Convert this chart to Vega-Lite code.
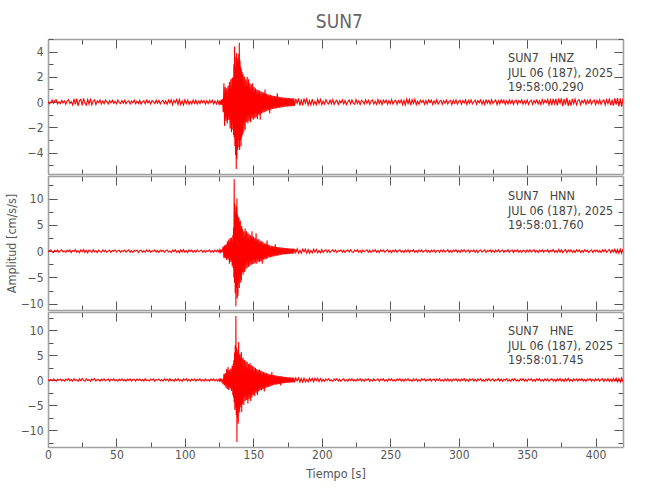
{
"$schema": "https://vega.github.io/schema/vega-lite/v6.json",
"background": "white",
"padding": {"left": 5, "top": 13, "right": 5, "bottom": 5},
"spacing": 0,
"title": {"text": "SUN7", "anchor": "middle", "fontSize": 19, "font": "DejaVu Sans Condensed, Liberation Sans Narrow, sans-serif", "fontWeight": "normal", "color": "#666", "offset": 1, "dx": 25},
"datasets": {"w": [
{"t":0,"z":0.05,"n":-0.18,"e":0.12},{"t":1,"z":-0.14,"n":0.07,"e":-0.2},{"t":2,"z":-0.02,"n":0.22,"e":0.09},{"t":3,"z":0.16,"n":-0.12,"e":-0.15},{"t":4,"z":-0.09,"n":-0.25,"e":0.22},{"t":5,"z":0.11,"n":0.15,"e":0.03},{"t":6,"z":0.18,"n":-0.04,"e":-0.24},{"t":7,"z":-0.15,"n":0.2,"e":0.14},{"t":8,"z":0.03,"n":-0.21,"e":-0.06},{"t":9,"z":-0.12,"n":0.1,"e":0.2},
{"t":10,"z":0.14,"n":0.26,"e":-0.18},{"t":11,"z":-0.06,"n":-0.14,"e":0.1},{"t":12,"z":0.1,"n":0.05,"e":-0.23},{"t":13,"z":-0.17,"n":-0.24,"e":0.17},{"t":14,"z":0.08,"n":0.18,"e":-0.04},{"t":15,"z":0.19,"n":-0.09,"e":0.25},{"t":16,"z":-0.11,"n":0.22,"e":-0.16},{"t":17,"z":0.04,"n":-0.27,"e":0.08},{"t":18,"z":-0.22,"n":0.12,"e":-0.2},{"t":19,"z":0.25,"n":-0.05,"e":0.27},
{"t":20,"z":-0.18,"n":0.3,"e":-0.12},{"t":21,"z":0.27,"n":-0.2,"e":0.05},{"t":22,"z":-0.3,"n":0.08,"e":-0.28},{"t":23,"z":0.12,"n":-0.3,"e":0.22},{"t":24,"z":0.22,"n":0.25,"e":-0.16},{"t":25,"z":-0.26,"n":-0.12,"e":0.3},{"t":26,"z":0.3,"n":0.33,"e":-0.08},{"t":27,"z":-0.08,"n":-0.26,"e":-0.26},{"t":28,"z":-0.24,"n":0.14,"e":0.24},{"t":29,"z":0.2,"n":-0.32,"e":-0.14},
{"t":30,"z":-0.16,"n":0.2,"e":0.1},{"t":31,"z":0.28,"n":0.04,"e":-0.3},{"t":32,"z":-0.22,"n":-0.24,"e":0.2},{"t":33,"z":0.06,"n":0.27,"e":-0.06},{"t":34,"z":0.18,"n":-0.15,"e":0.26},{"t":35,"z":-0.2,"n":0.1,"e":-0.2},{"t":36,"z":0.1,"n":-0.28,"e":0.12},{"t":37,"z":-0.04,"n":0.2,"e":0.04},{"t":38,"z":0.17,"n":-0.06,"e":-0.22},{"t":39,"z":-0.15,"n":-0.2,"e":0.18},
{"t":40,"z":0.08,"n":0.24,"e":-0.1},{"t":41,"z":-0.13,"n":-0.1,"e":0.23},{"t":42,"z":0.15,"n":0.16,"e":-0.19},{"t":43,"z":0.02,"n":-0.22,"e":0.02},{"t":44,"z":-0.16,"n":0.05,"e":0.2},{"t":45,"z":0.12,"n":0.19,"e":-0.24},{"t":46,"z":-0.07,"n":-0.24,"e":0.13},{"t":47,"z":0.14,"n":0.12,"e":-0.05},{"t":48,"z":-0.1,"n":-0.03,"e":0.21},{"t":49,"z":0.06,"n":0.22,"e":-0.17},
{"t":50,"z":-0.14,"n":-0.18,"e":0.07},{"t":51,"z":0.16,"n":0.08,"e":-0.22},{"t":52,"z":-0.03,"n":0.2,"e":0.18},{"t":53,"z":-0.12,"n":-0.23,"e":-0.1},{"t":54,"z":0.13,"n":0.1,"e":0.24},{"t":55,"z":-0.09,"n":-0.06,"e":-0.16},{"t":56,"z":0.15,"n":0.21,"e":0.04},{"t":57,"z":-0.14,"n":-0.19,"e":-0.21},{"t":58,"z":0.04,"n":0.03,"e":0.19},{"t":59,"z":0.11,"n":0.24,"e":-0.07},
{"t":60,"z":-0.15,"n":-0.2,"e":0.22},{"t":61,"z":0.09,"n":0.12,"e":-0.2},{"t":62,"z":-0.05,"n":-0.22,"e":0.09},{"t":63,"z":0.16,"n":0.17,"e":0.15},{"t":64,"z":-0.13,"n":-0.04,"e":-0.23},{"t":65,"z":0.07,"n":0.2,"e":0.17},{"t":66,"z":-0.11,"n":-0.25,"e":-0.05},{"t":67,"z":0.14,"n":0.09,"e":0.2},{"t":68,"z":-0.16,"n":0.18,"e":-0.18},{"t":69,"z":0.02,"n":-0.2,"e":0.1},
{"t":70,"z":0.12,"n":0.06,"e":-0.22},{"t":71,"z":-0.14,"n":-0.16,"e":0.24},{"t":72,"z":0.15,"n":0.23,"e":-0.12},{"t":73,"z":-0.06,"n":-0.1,"e":0.02},{"t":74,"z":0.1,"n":0.19,"e":-0.2},{"t":75,"z":-0.16,"n":-0.24,"e":0.18},{"t":76,"z":0.13,"n":0.08,"e":-0.06},{"t":77,"z":0.03,"n":-0.04,"e":0.22},{"t":78,"z":-0.12,"n":0.22,"e":-0.24},{"t":79,"z":0.15,"n":-0.19,"e":0.12},
{"t":80,"z":-0.09,"n":0.11,"e":-0.03},{"t":81,"z":0.13,"n":-0.22,"e":0.2},{"t":82,"z":-0.15,"n":0.2,"e":-0.17},{"t":83,"z":0.06,"n":-0.07,"e":0.08},{"t":84,"z":0.14,"n":0.16,"e":-0.22},{"t":85,"z":-0.13,"n":-0.23,"e":0.21},{"t":86,"z":0.09,"n":0.1,"e":-0.1},{"t":87,"z":-0.17,"n":0.24,"e":0.16},{"t":88,"z":0.16,"n":-0.16,"e":-0.21},{"t":89,"z":-0.08,"n":0.04,"e":0.23},
{"t":90,"z":0.19,"n":-0.25,"e":-0.14},{"t":91,"z":-0.2,"n":0.2,"e":0.05},{"t":92,"z":0.14,"n":-0.1,"e":-0.25},{"t":93,"z":-0.05,"n":0.27,"e":0.2},{"t":94,"z":0.21,"n":-0.22,"e":-0.12},{"t":95,"z":-0.18,"n":0.08,"e":0.24},{"t":96,"z":0.22,"n":-0.28,"e":-0.2},{"t":97,"z":-0.2,"n":0.25,"e":0.1},{"t":98,"z":0.1,"n":-0.14,"e":-0.26},{"t":99,"z":-0.22,"n":0.3,"e":0.22},
{"t":100,"z":0.18,"n":-0.2,"e":-0.06},{"t":101,"z":-0.12,"n":0.1,"e":0.25},{"t":102,"z":0.16,"n":-0.24,"e":-0.2},{"t":103,"z":-0.17,"n":0.22,"e":0.12},{"t":104,"z":0.05,"n":-0.06,"e":-0.22},{"t":105,"z":-0.14,"n":0.2,"e":0.2},{"t":106,"z":0.16,"n":-0.22,"e":-0.08},{"t":107,"z":-0.1,"n":0.12,"e":0.19},{"t":108,"z":0.14,"n":-0.18,"e":-0.23},{"t":109,"z":-0.16,"n":0.24,"e":0.14},
{"t":110,"z":0.08,"n":-0.12,"e":-0.04},{"t":111,"z":-0.13,"n":0.05,"e":0.22},{"t":112,"z":0.15,"n":0.22,"e":-0.2},{"t":113,"z":-0.04,"n":-0.2,"e":0.1},{"t":114,"z":0.12,"n":0.14,"e":-0.22},{"t":115,"z":-0.15,"n":-0.24,"e":0.2},{"t":116,"z":0.11,"n":0.1,"e":-0.14},{"t":117,"z":-0.13,"n":-0.05,"e":0.05},{"t":118,"z":0.14,"n":0.23,"e":-0.21},{"t":119,"z":-0.06,"n":-0.2,"e":0.2},
{"t":120,"z":0.16,"n":0.12,"e":-0.08},{"t":121,"z":-0.14,"n":-0.22,"e":0.23},{"t":122,"z":0.09,"n":0.2,"e":-0.19},{"t":123,"z":-0.15,"n":-0.08,"e":0.12},{"t":124,"z":0.13,"n":0.24,"e":-0.22},
{"t":125,"z":-0.17,"n":-0.22,"e":0.2},{"t":125.5,"z":0.12,"n":0.26,"e":-0.24},{"t":126,"z":-0.2,"n":-0.18,"e":0.14},{"t":126.5,"z":0.17,"n":0.28,"e":-0.25},{"t":127,"z":-0.22,"n":-0.3,"e":0.28},{"t":127.5,"z":0.25,"n":0.32,"e":-0.3},
{"t":128,"z":-0.8,"n":0.9,"e":-0.9},{"t":128.5,"z":1.5,"n":-1.3,"e":1.2},{"t":129,"z":-1.9,"n":1.1,"e":-1.1},{"t":129.5,"z":1.2,"n":-1.4,"e":1.4},{"t":130,"z":-1.5,"n":1.3,"e":-1.6},{"t":130.5,"z":1.1,"n":-1.7,"e":2.2},{"t":131,"z":-1.7,"n":1.9,"e":-1.8},{"t":131.5,"z":1.3,"n":-1.6,"e":2.6},{"t":132,"z":-1.4,"n":2.2,"e":-2.0},{"t":132.5,"z":1.6,"n":-2.4,"e":2.0},
{"t":133,"z":-2.1,"n":2.5,"e":-1.7},{"t":133.5,"z":1.8,"n":-2.0,"e":2.3},{"t":134,"z":-2.4,"n":2.6,"e":-2.2},{"t":134.5,"z":1.9,"n":-2.8,"e":2.8},
{"t":135,"z":-2.2,"n":3.0,"e":-3.0},{"t":135.25,"z":2.0,"n":-3.2,"e":3.2},{"t":135.5,"z":-2.6,"n":4.5,"e":-3.5},{"t":135.75,"z":3.0,"n":-5.0,"e":4.0},{"t":136,"z":-2.8,"n":13.7,"e":-4.5},{"t":136.25,"z":4.4,"n":-6.0,"e":5.5},{"t":136.5,"z":-3.5,"n":9.0,"e":-6.0},{"t":136.75,"z":2.8,"n":-8.0,"e":7.0},
{"t":137,"z":-4.2,"n":7.5,"e":-5.5},{"t":137.25,"z":3.6,"n":-10.5,"e":12.8},{"t":137.5,"z":-5.3,"n":8.5,"e":-7.0},{"t":137.75,"z":3.9,"n":-7.0,"e":6.5},{"t":138,"z":-4.5,"n":10.0,"e":-12.4},{"t":138.25,"z":3.5,"n":-9.0,"e":6.0},{"t":138.5,"z":-3.8,"n":7.0,"e":-7.5},{"t":138.75,"z":3.2,"n":-8.5,"e":5.5},
{"t":139,"z":-3.0,"n":6.5,"e":-8.7},{"t":139.25,"z":3.8,"n":-6.0,"e":7.6},{"t":139.5,"z":-3.6,"n":6.3,"e":-6.0},{"t":139.75,"z":4.7,"n":-7.0,"e":5.0},{"t":140,"z":-3.8,"n":5.5,"e":-6.5},{"t":140.25,"z":3.3,"n":-5.0,"e":5.2},{"t":140.5,"z":-3.0,"n":5.8,"e":-5.0},{"t":140.75,"z":2.8,"n":-6.0,"e":4.5},
{"t":141,"z":-3.5,"n":4.5,"e":-5.5},{"t":141.25,"z":2.6,"n":-5.5,"e":5.6},{"t":141.5,"z":-2.8,"n":4.8,"e":-6.4},{"t":141.75,"z":2.4,"n":-4.0,"e":4.2},
{"t":142,"z":-2.6,"n":4.2,"e":-4.8},{"t":142.5,"z":2.2,"n":-4.5,"e":4.5},{"t":143,"z":-2.4,"n":3.8,"e":-5.0},{"t":143.5,"z":2.0,"n":-4.0,"e":4.0},{"t":144,"z":-2.2,"n":4.3,"e":-4.2},{"t":144.5,"z":1.8,"n":-3.5,"e":3.8},{"t":145,"z":-1.6,"n":3.8,"e":-4.0},{"t":145.5,"z":2.0,"n":-3.2,"e":3.6},{"t":146,"z":-1.7,"n":3.5,"e":-4.7},{"t":146.5,"z":1.8,"n":-3.0,"e":3.2},
{"t":147,"z":-1.5,"n":3.2,"e":-3.8},{"t":147.5,"z":1.5,"n":-2.8,"e":3.4},{"t":148,"z":-1.6,"n":3.0,"e":-4.2},{"t":148.5,"z":1.4,"n":-2.6,"e":3.0},{"t":149,"z":-1.3,"n":3.8,"e":-3.5},{"t":149.5,"z":1.5,"n":-2.5,"e":2.8},{"t":150,"z":-1.4,"n":2.8,"e":-3.0},{"t":150.5,"z":1.2,"n":-2.4,"e":2.6},{"t":151,"z":-1.3,"n":2.5,"e":-3.2},{"t":151.5,"z":1.1,"n":-2.2,"e":2.4},
{"t":152,"z":-1.2,"n":3.4,"e":-2.6},{"t":152.5,"z":1.0,"n":-2.4,"e":2.2},{"t":153,"z":-1.35,"n":2.2,"e":-3.0},{"t":153.5,"z":0.95,"n":-2.0,"e":2.0},{"t":154,"z":-1.0,"n":2.3,"e":-2.3},{"t":154.5,"z":0.9,"n":-2.1,"e":2.1},{"t":155,"z":-1.4,"n":2.0,"e":-2.0},{"t":155.5,"z":0.85,"n":-1.9,"e":1.9},{"t":156,"z":-0.9,"n":1.9,"e":-2.1},{"t":156.5,"z":0.8,"n":-2.4,"e":1.7},
{"t":157,"z":-0.85,"n":1.8,"e":-1.8},{"t":157.5,"z":0.75,"n":-1.6,"e":1.6},{"t":158,"z":-0.8,"n":1.5,"e":-2.3},{"t":158.5,"z":1.0,"n":-1.6,"e":1.5},{"t":159,"z":-0.75,"n":1.4,"e":-1.6},{"t":159.5,"z":0.65,"n":-1.5,"e":1.4},{"t":160,"z":-0.7,"n":2.0,"e":-1.5},{"t":160.5,"z":0.6,"n":-1.3,"e":1.3},{"t":161,"z":-0.65,"n":1.2,"e":-1.4},{"t":161.5,"z":0.6,"n":-1.2,"e":1.2},
{"t":162,"z":-0.9,"n":1.1,"e":-1.3},{"t":162.5,"z":0.55,"n":-1.15,"e":1.1},{"t":163,"z":-0.58,"n":1.0,"e":-1.2},{"t":163.5,"z":0.52,"n":-1.1,"e":1.6},{"t":164,"z":-0.55,"n":0.95,"e":-1.1},{"t":164.5,"z":0.5,"n":-1.0,"e":1.0},{"t":165,"z":-0.52,"n":0.9,"e":-1.0},{"t":165.5,"z":0.48,"n":-0.95,"e":0.95},{"t":166,"z":-0.5,"n":1.3,"e":-0.95},{"t":166.5,"z":0.45,"n":-0.9,"e":0.9},
{"t":167,"z":-0.48,"n":0.8,"e":-0.9},{"t":167.5,"z":0.7,"n":-0.85,"e":0.85},{"t":168,"z":-0.46,"n":0.78,"e":-0.85},{"t":168.5,"z":0.42,"n":-0.8,"e":0.8},{"t":169,"z":-0.44,"n":0.75,"e":-0.8},{"t":169.5,"z":0.4,"n":-0.72,"e":0.78},{"t":170,"z":-0.42,"n":0.7,"e":-1.1},{"t":170.5,"z":0.39,"n":-0.7,"e":0.72},{"t":171,"z":-0.4,"n":0.68,"e":-0.7},{"t":171.5,"z":0.38,"n":-0.65,"e":0.68},
{"t":172,"z":-0.38,"n":0.63,"e":-0.66},{"t":172.5,"z":0.36,"n":-0.62,"e":0.64},{"t":173,"z":-0.37,"n":0.6,"e":-0.62},{"t":173.5,"z":0.35,"n":-0.6,"e":0.6},{"t":174,"z":-0.36,"n":0.58,"e":-0.6},{"t":174.5,"z":0.34,"n":-0.56,"e":0.58},{"t":175,"z":-0.35,"n":0.55,"e":-0.56},{"t":175.5,"z":0.33,"n":-0.54,"e":0.55},{"t":176,"z":-0.34,"n":0.52,"e":-0.55},{"t":176.5,"z":0.32,"n":-0.52,"e":0.53},
{"t":177,"z":-0.33,"n":0.5,"e":-0.52},{"t":177.5,"z":0.31,"n":-0.5,"e":0.5},{"t":178,"z":-0.32,"n":0.48,"e":-0.5},{"t":178.5,"z":0.3,"n":-0.48,"e":0.48},{"t":179,"z":-0.31,"n":0.47,"e":-0.48},{"t":179.5,"z":0.3,"n":-0.46,"e":0.47},
{"t":180,"z":-0.3,"n":0.42,"e":-0.46},{"t":181,"z":0.26,"n":-0.3,"e":0.4},{"t":182,"z":-0.1,"n":0.45,"e":-0.2},{"t":183,"z":0.3,"n":-0.4,"e":0.44},{"t":184,"z":-0.27,"n":0.15,"e":-0.43},{"t":185,"z":0.15,"n":-0.42,"e":0.3},{"t":186,"z":-0.26,"n":0.38,"e":-0.41},{"t":187,"z":0.27,"n":-0.12,"e":0.38},{"t":188,"z":-0.08,"n":0.37,"e":-0.4},{"t":189,"z":0.26,"n":-0.38,"e":0.1},
{"t":190,"z":-0.24,"n":0.3,"e":-0.38},{"t":191,"z":0.12,"n":-0.37,"e":0.36},{"t":192,"z":-0.23,"n":0.1,"e":-0.2},{"t":193,"z":0.24,"n":-0.34,"e":0.35},{"t":194,"z":-0.2,"n":0.36,"e":-0.34},{"t":195,"z":0.05,"n":-0.2,"e":0.36},{"t":196,"z":-0.21,"n":0.34,"e":-0.12},{"t":197,"z":0.22,"n":-0.32,"e":0.34},{"t":198,"z":-0.12,"n":0.1,"e":-0.32},{"t":199,"z":0.21,"n":-0.31,"e":0.3},
{"t":200,"z":-0.2,"n":0.3,"e":-0.28},{"t":201,"z":0.08,"n":-0.24,"e":0.12},{"t":202,"z":-0.17,"n":0.1,"e":-0.26},{"t":203,"z":0.19,"n":0.26,"e":0.2},{"t":204,"z":-0.04,"n":-0.2,"e":-0.1},{"t":205,"z":-0.15,"n":0.22,"e":0.24},{"t":206,"z":0.16,"n":-0.27,"e":-0.2},{"t":207,"z":-0.12,"n":0.05,"e":0.05},{"t":208,"z":0.2,"n":0.25,"e":-0.25},{"t":209,"z":-0.18,"n":-0.14,"e":0.22},
{"t":210,"z":0.05,"n":0.2,"e":-0.08},{"t":211,"z":0.14,"n":-0.26,"e":0.25},{"t":212,"z":-0.2,"n":0.12,"e":-0.22},{"t":213,"z":0.1,"n":-0.04,"e":0.14},{"t":214,"z":-0.06,"n":0.24,"e":-0.26},{"t":215,"z":0.18,"n":-0.22,"e":0.06},{"t":216,"z":-0.15,"n":0.18,"e":0.24},{"t":217,"z":0.12,"n":-0.27,"e":-0.21},{"t":218,"z":-0.19,"n":0.08,"e":0.1},{"t":219,"z":0.03,"n":0.22,"e":-0.25},
{"t":220,"z":0.17,"n":-0.18,"e":0.22},{"t":221,"z":-0.14,"n":0.25,"e":-0.12},{"t":222,"z":0.16,"n":-0.1,"e":0.26},{"t":223,"z":-0.08,"n":-0.24,"e":-0.2},{"t":224,"z":-0.18,"n":0.2,"e":0.04},{"t":225,"z":0.2,"n":-0.06,"e":-0.23},{"t":226,"z":-0.12,"n":0.26,"e":0.22},{"t":227,"z":0.1,"n":-0.22,"e":-0.1},{"t":228,"z":-0.2,"n":0.14,"e":0.25},{"t":229,"z":0.15,"n":-0.27,"e":-0.22},
{"t":230,"z":0.04,"n":0.22,"e":0.12},{"t":231,"z":-0.16,"n":-0.12,"e":-0.26},{"t":232,"z":0.18,"n":0.05,"e":0.2},{"t":233,"z":-0.1,"n":0.24,"e":-0.05},{"t":234,"z":0.14,"n":-0.22,"e":0.23},{"t":235,"z":-0.19,"n":0.16,"e":-0.24},{"t":236,"z":0.08,"n":-0.25,"e":0.1},{"t":237,"z":0.17,"n":0.2,"e":-0.2},{"t":238,"z":-0.15,"n":-0.08,"e":0.26},{"t":239,"z":0.06,"n":0.26,"e":-0.14},
{"t":240,"z":-0.18,"n":-0.2,"e":0.02},{"t":241,"z":0.2,"n":0.12,"e":0.22},{"t":242,"z":-0.11,"n":-0.26,"e":-0.25},{"t":243,"z":0.13,"n":0.22,"e":0.16},{"t":244,"z":-0.2,"n":-0.05,"e":-0.1},{"t":245,"z":0.16,"n":0.18,"e":0.24},{"t":246,"z":-0.04,"n":-0.24,"e":-0.22},{"t":247,"z":0.15,"n":0.1,"e":0.08},{"t":248,"z":-0.17,"n":0.25,"e":-0.26},{"t":249,"z":0.09,"n":-0.2,"e":0.2},
{"t":250,"z":-0.14,"n":0.14,"e":-0.12},{"t":251,"z":0.2,"n":-0.27,"e":0.25},{"t":252,"z":-0.16,"n":0.2,"e":-0.2},{"t":253,"z":0.05,"n":-0.08,"e":0.04},{"t":254,"z":0.15,"n":0.24,"e":-0.24},{"t":255,"z":-0.18,"n":-0.22,"e":0.22},{"t":256,"z":0.12,"n":0.1,"e":-0.08},{"t":257,"z":-0.08,"n":0.26,"e":0.26},{"t":258,"z":0.18,"n":-0.18,"e":-0.22},{"t":259,"z":-0.2,"n":0.05,"e":0.12},
{"t":260,"z":0.14,"n":-0.25,"e":-0.25},{"t":261,"z":-0.22,"n":0.22,"e":0.2},{"t":262,"z":0.24,"n":-0.12,"e":-0.1},{"t":263,"z":-0.12,"n":0.27,"e":0.27},{"t":264,"z":0.22,"n":-0.24,"e":-0.2},{"t":265,"z":-0.25,"n":0.14,"e":0.05},{"t":266,"z":0.2,"n":-0.06,"e":-0.26},{"t":267,"z":-0.1,"n":0.25,"e":0.24},{"t":268,"z":0.23,"n":-0.22,"e":-0.14},{"t":269,"z":-0.2,"n":0.1,"e":0.22},
{"t":270,"z":0.08,"n":-0.26,"e":-0.24},{"t":271,"z":-0.17,"n":0.22,"e":0.1},{"t":272,"z":0.16,"n":-0.1,"e":-0.2},{"t":273,"z":-0.05,"n":0.24,"e":0.25},{"t":274,"z":0.14,"n":-0.2,"e":-0.06},{"t":275,"z":-0.18,"n":0.04,"e":0.22},{"t":276,"z":0.12,"n":0.25,"e":-0.24},{"t":277,"z":-0.14,"n":-0.22,"e":0.14},{"t":278,"z":0.17,"n":0.12,"e":-0.1},{"t":279,"z":-0.06,"n":-0.26,"e":0.24},
{"t":280,"z":0.15,"n":0.2,"e":-0.22},{"t":281,"z":-0.19,"n":-0.08,"e":0.06},{"t":282,"z":0.1,"n":0.23,"e":0.2},{"t":283,"z":-0.12,"n":-0.24,"e":-0.25},{"t":284,"z":0.18,"n":0.1,"e":0.22},{"t":285,"z":-0.16,"n":0.16,"e":-0.12},{"t":286,"z":0.04,"n":-0.25,"e":0.26},{"t":287,"z":0.15,"n":0.22,"e":-0.2},{"t":288,"z":-0.18,"n":-0.12,"e":0.04},{"t":289,"z":0.12,"n":0.26,"e":-0.24},
{"t":290,"z":-0.09,"n":-0.2,"e":0.22},{"t":291,"z":0.17,"n":0.06,"e":-0.14},{"t":292,"z":-0.15,"n":0.24,"e":0.25},{"t":293,"z":0.06,"n":-0.22,"e":-0.22},{"t":294,"z":0.14,"n":0.14,"e":0.1},{"t":295,"z":-0.2,"n":-0.26,"e":-0.26},{"t":296,"z":0.16,"n":0.2,"e":0.2},{"t":297,"z":-0.1,"n":-0.06,"e":-0.05},{"t":298,"z":0.18,"n":0.25,"e":0.24},{"t":299,"z":-0.16,"n":-0.22,"e":-0.22},
{"t":300,"z":0.05,"n":0.12,"e":0.14},{"t":301,"z":0.15,"n":-0.24,"e":-0.25},{"t":302,"z":-0.18,"n":0.22,"e":0.2},{"t":303,"z":0.12,"n":-0.1,"e":-0.08},{"t":304,"z":-0.08,"n":0.26,"e":0.25},{"t":305,"z":0.17,"n":-0.2,"e":-0.22},{"t":306,"z":-0.2,"n":0.05,"e":0.12},{"t":307,"z":0.14,"n":0.23,"e":-0.24},{"t":308,"z":-0.12,"n":-0.25,"e":0.22},{"t":309,"z":0.18,"n":0.14,"e":-0.06},
{"t":310,"z":-0.15,"n":-0.08,"e":0.24},{"t":311,"z":0.03,"n":0.24,"e":-0.22},{"t":312,"z":0.15,"n":-0.22,"e":0.14},{"t":313,"z":-0.18,"n":0.18,"e":-0.26},{"t":314,"z":0.12,"n":-0.26,"e":0.2},{"t":315,"z":-0.06,"n":0.1,"e":-0.1},{"t":316,"z":0.17,"n":0.22,"e":0.25},{"t":317,"z":-0.16,"n":-0.2,"e":-0.22},{"t":318,"z":0.1,"n":0.06,"e":0.08},{"t":319,"z":-0.19,"n":0.25,"e":-0.25},
{"t":320,"z":0.16,"n":-0.24,"e":0.22},{"t":321,"z":-0.08,"n":0.12,"e":-0.14},{"t":322,"z":0.14,"n":-0.05,"e":0.26},{"t":323,"z":-0.15,"n":0.24,"e":-0.2},{"t":324,"z":0.19,"n":-0.22,"e":0.04},{"t":325,"z":-0.12,"n":0.16,"e":0.23},{"t":326,"z":0.05,"n":-0.26,"e":-0.24},{"t":327,"z":0.16,"n":0.2,"e":0.12},{"t":328,"z":-0.2,"n":-0.1,"e":-0.08},{"t":329,"z":0.12,"n":0.25,"e":0.24},
{"t":330,"z":-0.14,"n":-0.2,"e":-0.22},{"t":331,"z":0.18,"n":0.06,"e":0.2},{"t":332,"z":-0.06,"n":0.23,"e":-0.26},{"t":333,"z":0.15,"n":-0.24,"e":0.14},{"t":334,"z":-0.18,"n":0.14,"e":-0.06},{"t":335,"z":0.1,"n":-0.08,"e":0.25},{"t":336,"z":-0.15,"n":0.26,"e":-0.22},{"t":337,"z":0.17,"n":-0.22,"e":0.1},{"t":338,"z":-0.1,"n":0.1,"e":-0.24},{"t":339,"z":0.14,"n":0.22,"e":0.22},
{"t":340,"z":-0.19,"n":-0.26,"e":-0.12},{"t":341,"z":0.08,"n":0.18,"e":0.26},{"t":342,"z":0.16,"n":-0.05,"e":-0.2},{"t":343,"z":-0.17,"n":0.24,"e":0.05},{"t":344,"z":0.12,"n":-0.22,"e":-0.25},{"t":345,"z":-0.05,"n":0.12,"e":0.22},{"t":346,"z":0.18,"n":-0.25,"e":-0.1},{"t":347,"z":-0.16,"n":0.2,"e":0.24},{"t":348,"z":0.1,"n":0.08,"e":-0.22},{"t":349,"z":-0.14,"n":-0.24,"e":0.14},
{"t":350,"z":0.17,"n":0.22,"e":-0.26},{"t":351,"z":-0.19,"n":-0.12,"e":0.2},{"t":352,"z":0.06,"n":0.26,"e":-0.06},{"t":353,"z":0.15,"n":-0.2,"e":0.25},{"t":354,"z":-0.18,"n":0.05,"e":-0.22},{"t":355,"z":0.12,"n":0.24,"e":0.12},{"t":356,"z":-0.08,"n":-0.22,"e":-0.24},{"t":357,"z":0.17,"n":0.14,"e":0.22},{"t":358,"z":-0.15,"n":-0.26,"e":-0.08},{"t":359,"z":0.1,"n":0.2,"e":0.26},
{"t":360,"z":-0.2,"n":-0.08,"e":-0.2},{"t":361,"z":0.19,"n":0.25,"e":0.1},{"t":362,"z":-0.12,"n":-0.22,"e":-0.25},{"t":363,"z":0.16,"n":0.12,"e":0.24},{"t":364,"z":-0.05,"n":-0.04,"e":-0.14},{"t":365,"z":0.2,"n":0.26,"e":0.22},{"t":366,"z":-0.22,"n":-0.24,"e":-0.24},{"t":367,"z":0.18,"n":0.16,"e":0.06},{"t":368,"z":-0.24,"n":-0.1,"e":0.25},{"t":369,"z":0.26,"n":0.28,"e":-0.22},
{"t":370,"z":-0.14,"n":-0.22,"e":0.12},{"t":371,"z":0.25,"n":0.12,"e":-0.27},{"t":372,"z":-0.27,"n":-0.26,"e":0.24},{"t":373,"z":0.22,"n":0.3,"e":-0.1},{"t":374,"z":-0.1,"n":-0.18,"e":0.27},{"t":375,"z":0.3,"n":0.24,"e":-0.25},{"t":376,"z":-0.32,"n":-0.28,"e":0.14},{"t":377,"z":0.24,"n":0.1,"e":-0.28},{"t":378,"z":-0.2,"n":0.28,"e":0.26},{"t":379,"z":0.33,"n":-0.26,"e":-0.2},
{"t":380,"z":-0.3,"n":0.2,"e":0.3},{"t":381,"z":0.18,"n":-0.12,"e":-0.26},{"t":382,"z":-0.28,"n":0.27,"e":0.1},{"t":383,"z":0.26,"n":-0.25,"e":-0.27},{"t":384,"z":-0.12,"n":0.14,"e":0.24},{"t":385,"z":0.24,"n":-0.24,"e":-0.14},{"t":386,"z":-0.22,"n":0.25,"e":0.22},{"t":387,"z":0.1,"n":-0.08,"e":-0.25},{"t":388,"z":0.19,"n":0.22,"e":0.2},{"t":389,"z":-0.2,"n":-0.24,"e":-0.08},
{"t":390,"z":0.12,"n":0.12,"e":0.24},{"t":391,"z":-0.06,"n":-0.2,"e":-0.22},{"t":392,"z":0.17,"n":0.26,"e":0.12},{"t":393,"z":-0.18,"n":-0.1,"e":-0.25},{"t":394,"z":0.14,"n":0.2,"e":0.22},{"t":395,"z":-0.1,"n":-0.25,"e":-0.06},{"t":396,"z":0.19,"n":0.1,"e":0.25},{"t":397,"z":-0.16,"n":0.22,"e":-0.24},{"t":398,"z":0.06,"n":-0.26,"e":0.14},{"t":399,"z":0.16,"n":0.2,"e":-0.22},
{"t":400,"z":-0.2,"n":-0.08,"e":0.26},{"t":401,"z":0.14,"n":0.24,"e":-0.12},{"t":402,"z":-0.12,"n":-0.22,"e":0.22},{"t":403,"z":0.2,"n":0.14,"e":-0.26},{"t":404,"z":-0.18,"n":-0.26,"e":0.1},{"t":405,"z":0.08,"n":0.24,"e":0.24},{"t":406,"z":0.17,"n":-0.12,"e":-0.26},{"t":407,"z":-0.22,"n":0.28,"e":0.2},{"t":408,"z":0.2,"n":-0.25,"e":-0.14},{"t":409,"z":-0.12,"n":0.1,"e":0.28},
{"t":410,"z":0.24,"n":0.28,"e":-0.27},{"t":411,"z":-0.25,"n":-0.3,"e":0.16},{"t":412,"z":0.14,"n":0.24,"e":-0.3},{"t":413,"z":-0.28,"n":-0.14,"e":0.3},{"t":414,"z":0.3,"n":0.34,"e":-0.22},{"t":415,"z":-0.2,"n":-0.36,"e":0.36},{"t":416,"z":0.32,"n":0.3,"e":-0.38},{"t":417,"z":-0.34,"n":-0.4,"e":0.3},{"t":418,"z":0.3,"n":0.42,"e":-0.42},{"t":419,"z":-0.36,"n":-0.38,"e":0.44},{"t":420,"z":0.3,"n":0.4,"e":-0.4}
]},
"vconcat": [
{
"width": 575, "height": 135,
"layer": [
{"data": {"name": "w"}, "mark": {"type": "line", "color": "#ff0000", "strokeWidth": 1.1, "clip": true},
"encoding": {
"x": {"field": "t", "type": "quantitative", "scale": {"domain": [0, 420], "nice": false, "zero": false},
"axis": {"orient": "bottom", "values": [0,25,50,75,100,125,150,175,200,225,250,275,300,325,350,375,400], "tickSize": {"condition": {"test": "datum.value % 50 === 0", "value": -9}, "value": -5}, "labels": false, "title": null}},
"y": {"field": "z", "type": "quantitative", "scale": {"domain": [-5.7, 5.0], "nice": false, "zero": false},
"axis": {"orient": "left", "values": [-5,-4,-3,-2,-1,0,1,2,3,4,5], "tickSize": {"condition": {"test": "datum.value % 2 === 0", "value": -9}, "value": -5}, "labelExpr": "datum.value % 2 === 0 ? datum.label : ''", "labelPadding": 14, "title": null}}
}},
{"data": {"values": [{"id": "HNZ"}]}, "mark": {"type": "text", "align": "left", "baseline": "top", "fontSize": 12.5, "lineHeight": 14.5, "color": "#444", "font": "DejaVu Sans Condensed, Liberation Sans Narrow, sans-serif", "text": ["SUN7\u00a0\u00a0\u00a0HNZ", "JUL 06 (187), 2025", "19:58:00.290"]},
"encoding": {
"x": {"datum": 336, "type": "quantitative", "scale": {"domain": [0, 420], "nice": false, "zero": false},
"axis": {"orient": "top", "values": [0,25,50,75,100,125,150,175,200,225,250,275,300,325,350,375,400], "tickSize": {"condition": {"test": "datum.value % 50 === 0", "value": -9}, "value": -5}, "labels": false, "title": null}},
"y": {"datum": 3.95, "type": "quantitative", "scale": {"domain": [-5.7, 5.0], "nice": false, "zero": false},
"axis": {"orient": "right", "values": [-5,-4,-3,-2,-1,0,1,2,3,4,5], "tickSize": {"condition": {"test": "datum.value % 2 === 0", "value": -9}, "value": -5}, "labels": false, "title": null}}
}}
],
"resolve": {"axis": {"x": "independent", "y": "independent"}}
},
{
"width": 575, "height": 134,
"layer": [
{"data": {"name": "w"}, "mark": {"type": "line", "color": "#ff0000", "strokeWidth": 1.1, "clip": true},
"encoding": {
"x": {"field": "t", "type": "quantitative", "scale": {"domain": [0, 420], "nice": false, "zero": false},
"axis": {"orient": "bottom", "values": [0,25,50,75,100,125,150,175,200,225,250,275,300,325,350,375,400], "tickSize": {"condition": {"test": "datum.value % 50 === 0", "value": -9}, "value": -5}, "labels": false, "title": null}},
"y": {"field": "n", "type": "quantitative", "scale": {"domain": [-11.2, 14.3], "nice": false, "zero": false},
"axis": {"orient": "left", "values": [-10,-7.5,-5,-2.5,0,2.5,5,7.5,10,12.5], "tickSize": {"condition": {"test": "datum.value % 5 === 0", "value": -9}, "value": -5}, "labelExpr": "datum.value % 5 === 0 ? datum.label : ''", "labelPadding": 14, "title": "Amplitud  [cm/s/s]"}}
}},
{"data": {"values": [{"id": "HNN"}]}, "mark": {"type": "text", "align": "left", "baseline": "top", "fontSize": 12.5, "lineHeight": 14.5, "color": "#444", "font": "DejaVu Sans Condensed, Liberation Sans Narrow, sans-serif", "text": ["SUN7\u00a0\u00a0\u00a0HNN", "JUL 06 (187), 2025", "19:58:01.760"]},
"encoding": {
"x": {"datum": 336, "type": "quantitative", "scale": {"domain": [0, 420], "nice": false, "zero": false},
"axis": {"orient": "top", "values": [0,25,50,75,100,125,150,175,200,225,250,275,300,325,350,375,400], "tickSize": {"condition": {"test": "datum.value % 50 === 0", "value": -9}, "value": -5}, "labels": false, "title": null}},
"y": {"datum": 11.6, "type": "quantitative", "scale": {"domain": [-11.2, 14.3], "nice": false, "zero": false},
"axis": {"orient": "right", "values": [-10,-7.5,-5,-2.5,0,2.5,5,7.5,10,12.5], "tickSize": {"condition": {"test": "datum.value % 5 === 0", "value": -9}, "value": -5}, "labels": false, "title": null}}
}}
],
"resolve": {"axis": {"x": "independent", "y": "independent"}}
},
{
"width": 575, "height": 135,
"layer": [
{"data": {"name": "w"}, "mark": {"type": "line", "color": "#ff0000", "strokeWidth": 1.1, "clip": true},
"encoding": {
"x": {"field": "t", "type": "quantitative", "scale": {"domain": [0, 420], "nice": false, "zero": false},
"axis": {"orient": "bottom", "values": [0,25,50,75,100,125,150,175,200,225,250,275,300,325,350,375,400], "tickSize": {"condition": {"test": "datum.value % 50 === 0", "value": -9}, "value": -5}, "labelExpr": "datum.value % 50 === 0 ? datum.label : ''", "labelPadding": 11, "title": "Tiempo  [s]", "titlePadding": 3}},
"y": {"field": "e", "type": "quantitative", "scale": {"domain": [-13.4, 13.6], "nice": false, "zero": false},
"axis": {"orient": "left", "values": [-12.5,-10,-7.5,-5,-2.5,0,2.5,5,7.5,10,12.5], "tickSize": {"condition": {"test": "datum.value % 5 === 0", "value": -9}, "value": -5}, "labelExpr": "datum.value % 5 === 0 ? datum.label : ''", "labelPadding": 14, "title": null}}
}},
{"data": {"values": [{"id": "HNE"}]}, "mark": {"type": "text", "align": "left", "baseline": "top", "fontSize": 12.5, "lineHeight": 14.5, "color": "#444", "font": "DejaVu Sans Condensed, Liberation Sans Narrow, sans-serif", "text": ["SUN7\u00a0\u00a0\u00a0HNE", "JUL 06 (187), 2025", "19:58:01.745"]},
"encoding": {
"x": {"datum": 336, "type": "quantitative", "scale": {"domain": [0, 420], "nice": false, "zero": false},
"axis": {"orient": "top", "values": [0,25,50,75,100,125,150,175,200,225,250,275,300,325,350,375,400], "tickSize": {"condition": {"test": "datum.value % 50 === 0", "value": -9}, "value": -5}, "labels": false, "title": null}},
"y": {"datum": 11.0, "type": "quantitative", "scale": {"domain": [-13.4, 13.6], "nice": false, "zero": false},
"axis": {"orient": "right", "values": [-12.5,-10,-7.5,-5,-2.5,0,2.5,5,7.5,10,12.5], "tickSize": {"condition": {"test": "datum.value % 5 === 0", "value": -9}, "value": -5}, "labels": false, "title": null}}
}}
],
"resolve": {"axis": {"x": "independent", "y": "independent"}}
}
],
"config": {
"view": {"stroke": null},
"concat": {"spacing": 0},
"axis": {"grid": false, "domainColor": "#a0a0a0", "domainWidth": 1.6, "tickColor": "#555", "tickWidth": 1, "labelFont": "DejaVu Sans Condensed, Liberation Sans Narrow, sans-serif", "labelFontSize": 12, "labelColor": "#555", "labelPadding": 4, "labelFlush": false, "labelOverlap": false, "labelBound": false, "titleFont": "DejaVu Sans Condensed, Liberation Sans Narrow, sans-serif", "titleFontSize": 12.5, "titleFontWeight": "normal", "titleColor": "#555", "titlePadding": 2}
}
}
